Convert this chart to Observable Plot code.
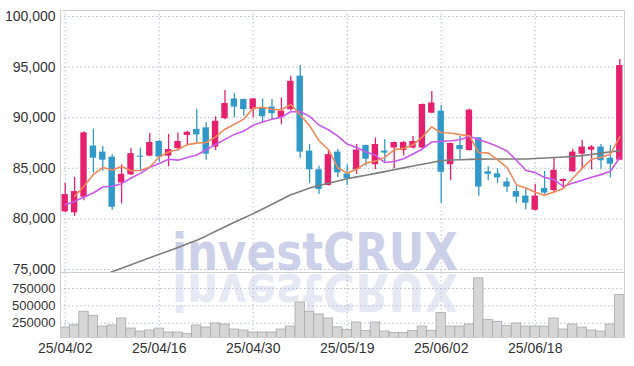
<!DOCTYPE html>
<html><head><meta charset="utf-8">
<script src="https://cdn.jsdelivr.net/npm/d3@7"></script>
<script src="https://cdn.jsdelivr.net/npm/@observablehq/plot@0.6"></script>
<style>
html,body{margin:0;padding:0;background:#fff;}
#wrap{position:relative;width:634px;height:366px;overflow:hidden;}
#wrap > svg{position:absolute;left:0;overflow:visible;}
</style></head><body><div id="wrap"></div>
<script>
const dates = ["25/04/02","25/04/03","25/04/04","25/04/07","25/04/08","25/04/09","25/04/10","25/04/11","25/04/14","25/04/15",
"25/04/16","25/04/17","25/04/18","25/04/21","25/04/22","25/04/23","25/04/24","25/04/25","25/04/28","25/04/29",
"25/04/30","25/05/02","25/05/07","25/05/08","25/05/09","25/05/12","25/05/13","25/05/14","25/05/15","25/05/16",
"25/05/19","25/05/20","25/05/21","25/05/22","25/05/23","25/05/26","25/05/27","25/05/28","25/05/29","25/05/30",
"25/06/02","25/06/04","25/06/05","25/06/09","25/06/10","25/06/11","25/06/12","25/06/13","25/06/16","25/06/17",
"25/06/18","25/06/19","25/06/20","25/06/23","25/06/24","25/06/25","25/06/26","25/06/27","25/06/30","25/07/01"];
const open = [80700,80600,82150,87200,86600,86100,83550,84350,86200,86200,
87650,86200,86950,88250,88850,89000,87100,89900,91850,91800,
90800,90950,91050,90000,90800,94100,86700,84850,83300,86600,
84450,84850,87250,85350,86700,87000,86750,87000,87000,90450,
90650,85350,87250,86750,88000,84650,84450,83650,82700,82250,
80850,83000,82800,83700,84650,86400,86800,87100,86000,85800];
const high = [83500,84100,88600,88850,87150,86350,85350,86950,87000,88450,
87750,88350,88500,88650,90800,89500,90100,92700,92400,91850,
91900,91850,91800,91950,94100,95150,87350,85200,86700,86850,
85350,87350,87300,88000,87850,87600,87650,88150,91350,92600,
91200,87500,88150,90850,88050,85150,84950,84050,83200,82900,
83400,84700,86000,83950,86850,87750,87250,87350,87250,95750];
const low = [80600,80250,81800,84500,84700,80850,81500,84300,84700,86150,
85600,85150,86700,87250,87350,85800,86750,89800,90000,90150,
90000,89500,89800,89300,90650,86000,83500,82400,83250,84100,
83300,84400,85200,84870,85600,84950,86250,86900,86900,90400,
81550,83800,85850,86700,82250,83800,83500,82600,81550,80900,
80800,82400,82500,82950,84600,84900,84850,84900,84050,85750];
const close = [82400,82700,88500,86000,85800,81150,84400,86450,86100,87550,
86100,86850,87650,88550,88300,86400,89650,91400,91050,90800,
91850,90100,90400,90650,93600,86600,84850,82900,86350,84550,
83950,86800,85900,87350,86500,87550,87550,87650,91300,91450,
84600,87450,86850,90750,83150,84400,84050,83150,82150,81550,
82250,82550,84800,83900,86600,87100,87100,85750,85400,95150];
const volume = [188000,221000,415000,357000,202000,217000,318000,173000,130000,145000,
173000,116000,116000,97000,217000,188000,246000,231000,159000,145000,
116000,116000,116000,159000,202000,549000,415000,376000,318000,190000,
154000,260000,140000,260000,130000,111000,111000,140000,202000,140000,
395000,202000,202000,231000,896000,299000,270000,212000,246000,202000,
202000,202000,318000,159000,231000,188000,145000,130000,231000,655000];
const ma5 = [null,82230,83220,84380,85080,84830,85170,84760,84780,85130,
86120,86610,86850,87340,87490,87550,88110,88860,89360,89860,
90950,91040,90840,90760,91320,90270,89220,87720,86860,85050,
84520,84910,85510,85710,86100,86820,86970,87320,88110,89100,
88510,88490,88330,88220,86560,86520,85840,85100,83380,83060,
82630,82330,82660,83010,84020,84990,85900,86090,86390,88100];
const ma10 = [81400,81730,82160,82560,83150,83220,83480,84040,84500,85105,
85475,85890,85805,86060,86310,86835,87360,87855,88350,88675,
89250,89575,89850,90060,90590,90610,90130,89280,88810,88185,
87395,87065,86615,86285,85575,85670,85940,86415,86910,87600,
87665,87730,87825,88165,87830,87515,87165,86715,85800,84810,
84575,84085,83880,83195,83540,83810,84115,84375,84700,86060];
const ma60 = [null,null,null,null,74435,74780,75120,75470,75810,76150,
76500,76840,77180,77540,77900,78320,78780,79230,79660,80090,
80520,80980,81440,81910,82380,82720,83060,83300,83520,83740,
83960,84150,84320,84500,84670,84850,85040,85220,85400,85570,
85760,85820,85850,85880,85910,85920,85920,85920,85920,85920,
85970,86020,86070,86120,86170,86250,86370,86500,86620,86740];
const priceTicks = [75000,80000,85000,90000,95000,100000];
const volumeTicks = [250000,500000,750000];
const labelDates = ["25/04/02","25/04/16","25/04/30","25/05/19","25/06/02","25/06/18"];

const rows = dates.map((d,i)=>({date:d, open:open[i], high:high[i], low:low[i], close:close[i],
  volume:volume[i], ma5:ma5[i], ma10:ma10[i], ma60:ma60[i]}));

const UP = "#e5206c", DOWN = "#3198ca";
const font = '"Liberation Sans", Arial, sans-serif';
const grid = {stroke:"#b7bbd6", strokeDasharray:"1.5,2.5", strokeWidth:1};
const col = d => d.close >= d.open ? UP : DOWN;
const xScale = {domain:dates, type:"band", range:[60,624], paddingInner:0, paddingOuter:0, align:0.5, round:false};

const wrap = document.getElementById("wrap");

// watermark (behind)
const NS = "http://www.w3.org/2000/svg";
const wm = document.createElementNS(NS,"svg");
wm.setAttribute("width",634); wm.setAttribute("height",366);
wm.style.top = "0px";
wm.innerHTML = `
<defs><clipPath id="wmc"><rect x="0" y="272" width="634" height="45"/></clipPath></defs>
<text x="172" y="270" textLength="286" lengthAdjust="spacingAndGlyphs" font-family="DejaVu Sans, sans-serif" font-weight="bold" font-size="51" fill="#ccd1e9">investCRUX</text>
<g clip-path="url(#wmc)"><text x="172" y="270" transform="translate(0,544) scale(1,-1)" textLength="286" lengthAdjust="spacingAndGlyphs" font-family="DejaVu Sans, sans-serif" font-weight="bold" font-size="51" fill="#e6e8f4">investCRUX</text></g>`;
wrap.appendChild(wm);

const price = Plot.plot({
  width:634, height:272, marginTop:10, marginBottom:0, marginLeft:60, marginRight:10,
  style:{background:"transparent", fontFamily:font, fontSize:"14px", color:"#333", overflow:"visible"},
  color:{type:"identity"},
  x:{...xScale, axis:null},
  y:{domain:[74704,100593], ticks:priceTicks, tickFormat:d3.format(","), tickSize:0, tickPadding:5, label:null},
  marks:[
    Plot.ruleY(priceTicks, grid),
    Plot.ruleX(labelDates, grid),
    Plot.ruleX(rows, {x:"date", y1:"low", y2:"high", stroke:col, strokeWidth:1.3}),
    Plot.barY(rows, {x:"date", y1:"open", y2:"close", fill:col, insetLeft:1.5, insetRight:1.5}),
    Plot.line(rows, {x:"date", y:"ma60", stroke:"#7d7d7d", strokeWidth:1.6, clip:true}),
    Plot.line(rows, {x:"date", y:"ma10", stroke:"#c957ea", strokeWidth:1.6}),
    Plot.line(rows, {x:"date", y:"ma5", stroke:"#f0895a", strokeWidth:1.6}),
    Plot.frame({stroke:"#cfcfcf"})
  ]
});
price.style.top = "0px";
wrap.appendChild(price);

const vol = Plot.plot({
  width:634, height:94, marginTop:0, marginBottom:29, marginLeft:60, marginRight:10,
  style:{background:"transparent", fontFamily:font, fontSize:"14px", color:"#333", overflow:"visible"},
  x:{...xScale, ticks:labelDates, tickSize:0, tickPadding:6, label:null},
  y:{domain:[44000,980500], ticks:volumeTicks, tickFormat:d=>String(d), tickSize:0, tickPadding:5, label:null},
  marks:[
    Plot.ruleY(volumeTicks, grid),
    Plot.ruleX(labelDates, grid),
    Plot.barY(rows, {x:"date", y:"volume", fill:"#d6d6d6", stroke:"#a9a9a9", strokeWidth:0.8, clip:true}),
    Plot.frame({stroke:"#cfcfcf"})
  ]
});
vol.style.top = "272px";
vol.querySelectorAll('g[aria-label^="y-axis"] text').forEach(t=>t.setAttribute("font-size","13"));
wrap.appendChild(vol);
</script></body></html>
